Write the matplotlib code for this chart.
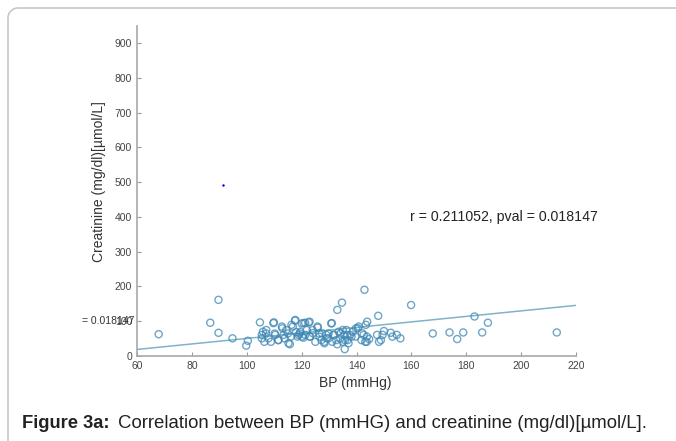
import numpy as np
import matplotlib.pyplot as plt
from matplotlib.lines import Line2D

# BP (mmHg) vs creatinine
bp = [67.9, 86.7, 89.7, 89.7, 94.8, 99.8, 100.4, 104.8, 105.5, 105.9,
      106.4, 107.0, 108.8, 109.9, 110.2, 111.4, 113.0, 113.8, 115.0, 115.7,
      116.3, 117.6, 118.5, 119.3, 120.0, 120.6, 121.3, 122.6, 122.9, 124.0,
      125.9, 126.4, 127.2, 128.3, 129.2, 129.8, 130.8, 131.1, 131.9, 133.0,
      133.0, 134.2, 134.7, 135.0, 135.7, 135.8, 136.6, 137.1, 138.2, 139.8,
      140.5, 141.8, 142.6, 142.9, 143.4, 143.7, 143.9, 144.6, 147.9, 148.2,
      148.9, 149.5, 150.0, 152.5, 153.1, 154.7, 156.0, 159.9, 167.8, 173.9,
      176.7, 178.9, 183.0, 185.8, 187.9, 213.0,
      105.5, 107.1, 107.9, 109.7, 110.4, 111.6, 112.8, 113.4, 114.4, 115.2,
      116.1, 116.8, 117.7, 118.0, 118.9, 119.5, 120.1, 120.7, 121.3, 121.9,
      122.9, 123.1, 124.1, 125.0, 125.8, 126.5, 127.4, 128.2, 129.0, 129.8,
      131.0, 131.6, 132.6, 133.5, 134.1, 135.0, 135.5, 136.3, 136.8, 137.7,
      138.7, 139.6, 140.8, 142.0, 143.2, 143.8, 147.5]
creat = [62, 95, 161, 66, 50, 29, 43, 96, 50, 69,
         40, 64, 40, 96, 64, 45, 79, 50, 64, 33,
         89, 101, 55, 64, 93, 52, 95, 96, 55, 74,
         81, 64, 45, 36, 50, 64, 93, 40, 60, 132,
         33, 64, 153, 74, 19, 45, 60, 36, 55, 79,
         79, 45, 60, 190, 89, 40, 98, 48, 115, 40,
         45, 60, 71, 66, 55, 60, 50, 146, 64, 67,
         48, 67, 113, 67, 95, 67,
         60, 74, 50, 94, 60, 45, 84, 60, 74, 36,
         55, 84, 103, 68, 60, 69, 55, 94, 60, 74,
         98, 55, 65, 40, 84, 55, 65, 40, 60, 50,
         94, 60, 45, 69, 50, 40, 60, 74, 45, 60,
         69, 55, 84, 65, 40, 55, 60]

fit_x = [60, 220]
fit_y = [18, 145]

xticks = [60, 80, 100, 120, 140, 160, 180, 200, 220]
yticks = [0, 100, 200, 300, 400, 500, 600, 700, 800, 900]

plt.rcParams['font.family'] = ['Liberation Sans', 'DejaVu Sans']

W, H = 676, 441
fig = plt.figure(figsize=(W / 100, H / 100), dpi=100)

# frame with a rounded top-left corner, running off right and bottom
r = 10
t = np.linspace(np.pi, np.pi / 2, 20)
fx = np.concatenate([[8], 8 + r + r * np.cos(t), [W + 5]])
fy = np.concatenate([[H + 5], 8 + r - r * np.sin(t), [8]])
fig.add_artist(Line2D(fx / W, 1 - fy / H, transform=fig.transFigure,
                      color='#c8c8c8', linewidth=1.2))

ax = fig.add_axes([137 / W, 1 - 355.7 / H, 439 / W, 329.7 / H])
ax.scatter(bp, creat, s=26, facecolors='none', edgecolors='#3f88b5',
           linewidths=1.0, alpha=0.75, zorder=3)
ax.plot(fit_x, fit_y, color='#7db4c8', linewidth=1.1, zorder=2)
ax.plot([91.5], [491], marker='.', markersize=1.5, color='blue')

ax.set_xlim(60, 220)
ax.set_ylim(0, 950)
ax.set_xticks(xticks)
ax.set_yticks(yticks)
ax.tick_params(direction='in', length=3, color='#9a9a9a', labelsize=7.5,
               labelcolor='#444444')
for s in ['top', 'right']:
    ax.spines[s].set_visible(False)
for s in ['left', 'bottom']:
    ax.spines[s].set_color('#a8a8a8')
    ax.spines[s].set_linewidth(1.2)

ax.text(159.6, 399, 'r = 0.211052, pval = 0.018147', fontsize=10.2,
        color='#222222', va='center')
ax.annotate('= 0.018147', xy=(0, 100), xycoords=('axes fraction', 'data'),
            xytext=(-2, 0), textcoords='offset points', ha='right',
            va='center', fontsize=7.5, color='#333333')

fig.text(99 / W, 1 - 182 / H, 'Creatinine (mg/dl)[µmol/L]', rotation=90,
         ha='center', va='center', fontsize=10, color='#333333')
fig.text(355 / W, 1 - 383 / H, 'BP (mmHg)', ha='center', va='center',
         fontsize=10, color='#333333')

fig.text(22 / W, 1 - 423 / H, 'Figure 3a:', ha='left', va='center',
         fontsize=13.2, fontweight='bold', color='#222222')
fig.text(118 / W, 1 - 423 / H,
         'Correlation between BP (mmHG) and creatinine (mg/dl)[µmol/L].',
         ha='left', va='center', fontsize=13.4, color='#222222')

fig.savefig('out.png', dpi=100)
